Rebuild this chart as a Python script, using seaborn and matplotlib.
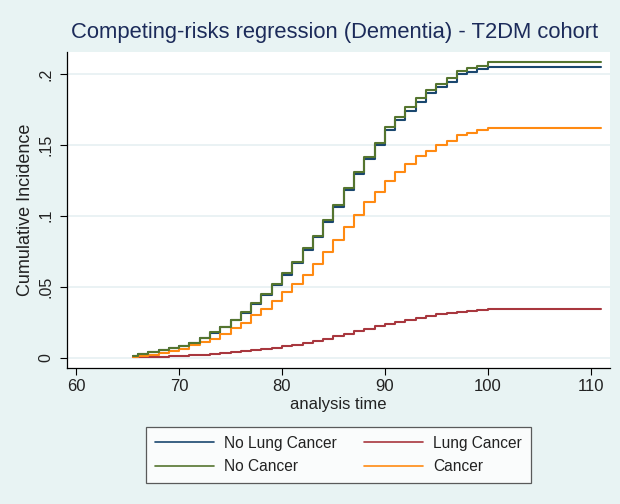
import numpy as np
import pandas as pd
import matplotlib
matplotlib.use("Agg")
import matplotlib.pyplot as plt
import seaborn as sns
from matplotlib.lines import Line2D

# step times (start of curve, then yearly jumps), last point extends the plateau
ages = [65.5] + list(range(66, 101)) + [111]

no_cancer = [0.0012, 0.0024, 0.0038, 0.0053, 0.0067, 0.0085, 0.0106, 0.0142, 0.0178,
             0.0217, 0.0268, 0.0320, 0.0385, 0.0450, 0.0521, 0.0596, 0.0676, 0.0770,
             0.0861, 0.0967, 0.1075, 0.1195, 0.1308, 0.1416, 0.1516, 0.1627, 0.1697,
             0.1765, 0.1833, 0.1890, 0.1927, 0.1970, 0.2023, 0.2040, 0.2056, 0.2082, 0.2082]
no_lung_cancer = [0.0012, 0.0023, 0.0037, 0.0052, 0.0066, 0.0083, 0.0104, 0.0139, 0.0175,
                  0.0213, 0.0263, 0.0314, 0.0378, 0.0442, 0.0512, 0.0586, 0.0665, 0.0758,
                  0.0848, 0.0953, 0.1060, 0.1179, 0.1294, 0.1401, 0.1500, 0.1604, 0.1674,
                  0.1739, 0.1805, 0.1864, 0.1906, 0.1946, 0.1998, 0.2016, 0.2035, 0.2052, 0.2052]
cancer = [0.0007, 0.0012, 0.0018, 0.0033, 0.0045, 0.0058, 0.0087, 0.0110, 0.0134,
          0.0167, 0.0207, 0.0244, 0.0300, 0.0340, 0.0397, 0.0460, 0.0519, 0.0585,
          0.0662, 0.0742, 0.0831, 0.0920, 0.1007, 0.1094, 0.1171, 0.1246, 0.1308,
          0.1364, 0.1423, 0.1460, 0.1500, 0.1528, 0.1570, 0.1587, 0.1604, 0.1618, 0.1618]
lung_cancer = [0.0002, 0.0003, 0.0005, 0.0007, 0.0009, 0.0012, 0.0016, 0.0021, 0.0026,
               0.0032, 0.0038, 0.0045, 0.0052, 0.0060, 0.0069, 0.0080, 0.0092, 0.0105,
               0.0119, 0.0134, 0.0150, 0.0167, 0.0185, 0.0203, 0.0221, 0.0238, 0.0254,
               0.0268, 0.0282, 0.0294, 0.0305, 0.0315, 0.0324, 0.0332, 0.0338, 0.0343, 0.0343]

groups = ["No Lung Cancer", "Lung Cancer", "No Cancer", "Cancer"]
series = [no_lung_cancer, lung_cancer, no_cancer, cancer]
colors = {"No Lung Cancer": "#1a476f", "Lung Cancer": "#a8373e",
          "No Cancer": "#55752f", "Cancer": "#ff8a12"}

y_ticks = [0, 0.05, 0.1, 0.15, 0.2]
y_ticklabels = ["0", ".05", ".1", ".15", ".2"]
x_ticks = [60, 70, 80, 90, 100, 110]

df = pd.DataFrame({
    "age": ages * 4,
    "ci": sum(series, []),
    "group": sum([[g] * len(ages) for g in groups], []),
})

sns.set_theme(style="white")
plt.rcParams["font.family"] = ["Liberation Sans", "DejaVu Sans"]

bg = "#e8f3f3"
fig = plt.figure(figsize=(6.2, 5.04), dpi=100, facecolor=bg)
ax = fig.add_axes([0.108, 0.270, 0.876, 0.627])
ax.set_facecolor("white")

order = ["No Lung Cancer", "Lung Cancer", "Cancer", "No Cancer"]
sns.lineplot(data=df, x="age", y="ci", hue="group", hue_order=order, palette=colors,
             drawstyle="steps-post", linewidth=1.5, ax=ax, legend=False,
             estimator=None, sort=True)

ax.set_xlim(59.1, 111.9)
ax.set_ylim(-0.0072, 0.2155)
ax.set_yticks(y_ticks)
ax.set_yticklabels(y_ticklabels, rotation=90, va="center")
ax.set_xticks(x_ticks)
ax.tick_params(axis="both", direction="out", length=5, width=0.8, colors="black",
               left=True, bottom=True)
ax.tick_params(axis="y", pad=5, labelsize=11.5)
ax.tick_params(axis="x", pad=3, labelsize=12)
for t in ax.get_yticklabels() + ax.get_xticklabels():
    t.set_color("#222222")
ax.grid(axis="y", color="#e6f0f2", linewidth=1.2)
ax.grid(axis="x", visible=False)
for s in ["top", "right"]:
    ax.spines[s].set_visible(False)
for s in ["left", "bottom"]:
    ax.spines[s].set_color("black")
    ax.spines[s].set_linewidth(0.9)

ax.set_xlabel("analysis time", fontsize=12, color="#222222", labelpad=2)
ax.set_ylabel("Cumulative Incidence", fontsize=13, color="#222222")
ax.yaxis.set_label_coords(-0.061, 0.5)
fig.text(0.540, 0.935, "Competing-risks regression (Dementia) - T2DM cohort",
         ha="center", va="center", fontsize=15.8, color="#1c2b5a")

handles = [Line2D([], [], color=colors[g], lw=1.2) for g in
           ["No Lung Cancer", "No Cancer", "Lung Cancer", "Cancer"]]
labels = ["No Lung Cancer", "No Cancer", "Lung Cancer", "Cancer"]
leg = fig.legend(handles, labels, ncol=2, loc="center", bbox_to_anchor=(0.546, 0.097),
                 fontsize=11.2, frameon=True, fancybox=False, edgecolor="#333333",
                 handlelength=3.8, columnspacing=1.75, labelspacing=0.55,
                 borderpad=0.55, handletextpad=0.65, borderaxespad=0)
leg.get_frame().set_linewidth(0.9)
for t in leg.get_texts():
    t.set_color("#222222")

fig.savefig("out.png", dpi=100, facecolor=bg)
